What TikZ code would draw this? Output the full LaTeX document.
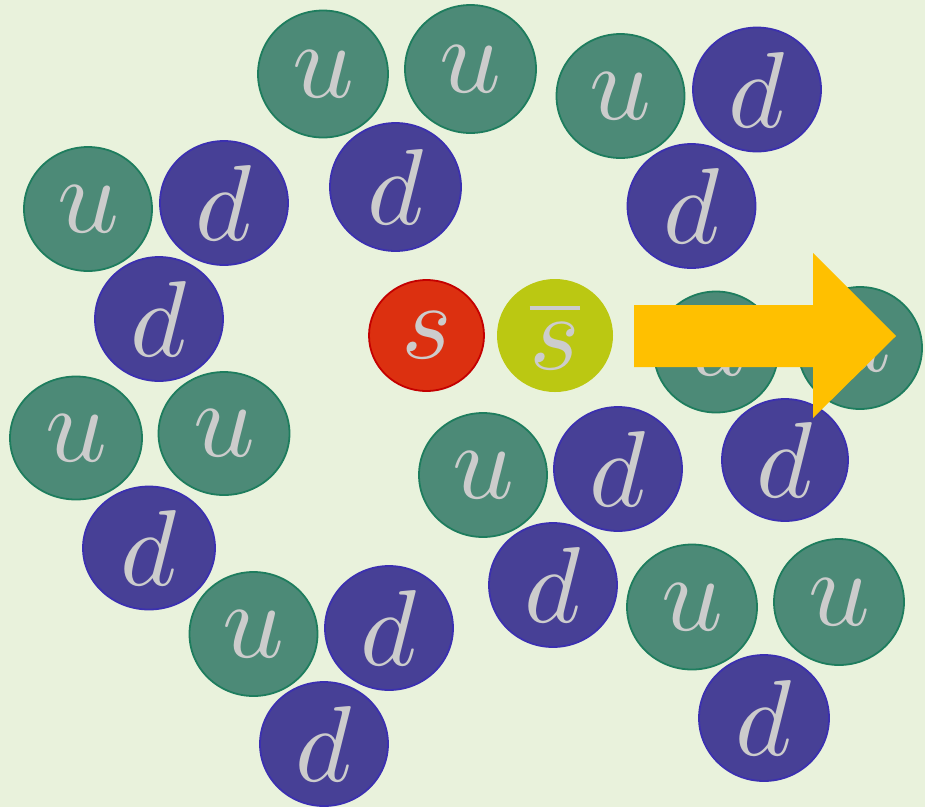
\documentclass[tikz,border=0pt]{standalone}
\usepackage{graphicx}
\usetikzlibrary{shapes.geometric}
\definecolor{bgc}{HTML}{E9F2DC}
\definecolor{ufill}{HTML}{4C8A77}
\definecolor{udraw}{HTML}{1E7D5E}
\definecolor{dfill}{HTML}{474096}
\definecolor{ddraw}{HTML}{3B30B0}
\definecolor{sfill}{HTML}{DC3010}
\definecolor{sdraw}{HTML}{C40000}
\definecolor{sbfill}{HTML}{BBC812}
\definecolor{arrowc}{HTML}{FFC000}
\definecolor{letterc}{HTML}{CCCCCC}
\newcommand{\qlet}[1]{\scalebox{10.8}{$#1$}}
\tikzset{
  quark/.style={ellipse, inner sep=0pt, minimum width=128pt, minimum height=124pt,
    line width=1.8pt, text=letterc},
  uq/.style={quark, fill=ufill, draw=udraw},
  dq/.style={quark, fill=dfill, draw=ddraw},
  sq/.style={quark, minimum width=115pt, minimum height=111pt, fill=sfill, draw=sdraw},
  sbq/.style={quark, minimum width=116pt, minimum height=113pt, fill=sbfill, draw=none},
}
\begin{document}
\begin{tikzpicture}[x=1pt,y=-1pt]
\fill[bgc] (0,0) rectangle (925,807);
\useasboundingbox (0,0) rectangle (925,807);
% top middle
\node[uq, minimum width=130pt, minimum height=127pt] (u1) at (323,74) {\qlet{u}};
\node[uq, minimum width=131pt, minimum height=128pt] (u2) at (470.5,69) {\qlet{u}};
\node[dq, minimum width=131pt, minimum height=128pt] (d1) at (395.5,187) {\qlet{d}};
% top right
\node[uq] (u3) at (620.5,96) {\qlet{u}};
\node[dq] (d2) at (757,89.5) {\qlet{d}};
\node[dq] (d3) at (691.5,206) {\qlet{d}};
% left
\node[uq] (u4) at (88,209) {\qlet{u}};
\node[dq] (d4) at (224,203) {\qlet{d}};
\node[dq] (d5) at (159,319) {\qlet{d}};
% left lower
\node[uq, minimum width=132pt, minimum height=123pt] (u5) at (76,438) {\qlet{u}};
\node[uq, minimum width=131pt, minimum height=123pt] (u6) at (224,433.5) {\qlet{u}};
\node[dq, minimum width=132pt, minimum height=123pt] (d6) at (149,548) {\qlet{d}};
% bottom
\node[uq] (u7) at (253.5,634) {\qlet{u}};
\node[dq] (d7) at (389,628) {\qlet{d}};
\node[dq] (d8) at (324,744) {\qlet{d}};
% center
\node[uq] (u8) at (483,475) {\qlet{u}};
\node[dq] (d9) at (618,469) {\qlet{d}};
\node[dq] (d10) at (553,585) {\qlet{d}};
% right middle
\node[uq, minimum width=124pt, minimum height=121pt] (u9) at (716,352) {\qlet{u}};
\node[uq, minimum width=124pt, minimum height=122pt] (u10) at (860,348) {\qlet{u}};
\node[dq, minimum width=126pt, minimum height=122pt] (d11) at (785,460) {\qlet{d}};
% bottom right
\node[uq, minimum width=130pt, minimum height=125pt] (u11) at (692,607) {\qlet{u}};
\node[uq, minimum width=130pt, minimum height=126pt] (u12) at (839,602) {\qlet{u}};
\node[dq, minimum width=130pt, minimum height=126pt] (d12) at (764,718) {\qlet{d}};
% strange pair
\node[sq] (s) at (426.5,335.5) {\qlet{s}};
\node[sbq] (sb) at (555,335.5) {\qlet{\overline{s}}};
% arrow
\fill[arrowc] (634,305) -- (813,305) -- (813,253) -- (896,336) -- (813,418) -- (813,367) -- (634,367) -- cycle;
\end{tikzpicture}
\end{document}
